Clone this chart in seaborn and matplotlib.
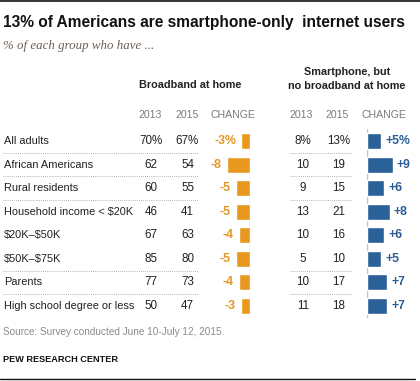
import matplotlib
matplotlib.use("Agg")
import matplotlib.pyplot as plt
import matplotlib.transforms as mtransforms
import seaborn as sns
import pandas as pd

# ---- data ----
groups = ["All adults", "African Americans", "Rural residents",
          "Household income < $20K", "$20K\u2013$50K", "$50K\u2013$75K",
          "Parents", "High school degree or less"]
bb_2013 = [70, 62, 60, 46, 67, 85, 77, 50]
bb_2015 = [67, 54, 55, 41, 63, 80, 73, 47]
bb_change = [-3, -8, -5, -5, -4, -5, -4, -3]
sp_2013 = [8, 10, 9, 13, 10, 5, 10, 11]
sp_2015 = [13, 19, 15, 21, 16, 10, 17, 18]
sp_change = [5, 9, 6, 8, 6, 5, 7, 7]
sep_after = [True, True, True, False, False, True, True, False]

title = "13% of Americans are smartphone-only  internet users"
subtitle = "% of each group who have ..."
source = "Source: Survey conducted June 10-July 12, 2015."
credit = "PEW RESEARCH CENTER"

df = pd.DataFrame({"group": groups, "bb_change": bb_change, "sp_change": sp_change})

sns.set_theme(style="white")
plt.rcParams["font.family"] = ["Liberation Sans", "DejaVu Sans"]
plt.rcParams["text.parse_math"] = False

W, H = 420, 381
fig = plt.figure(figsize=(W / 100, H / 100), dpi=100)
fig.patch.set_facecolor("white")

# full-figure pixel axes for text
ax0 = fig.add_axes([0, 0, 1, 1])
ax0.set_xlim(0, W)
ax0.set_ylim(H, 0)
ax0.axis("off")

ORANGE = "#E8981F"
BLUE = "#2B6199"
ORANGE_T = "#E39726"
BLUE_T = "#2C5D95"
DARK = "#222222"
GRAY = "#7a7a7a"

scale = 2.85  # px per percentage point
top_y, bot_y = 129.2, 317.8


def px_axes(x0, x1, y0, y1):
    return fig.add_axes([x0 / W, 1 - y1 / H, (x1 - x0) / W, (y1 - y0) / H])


axL = px_axes(250 - scale * 10, 250, top_y, bot_y)
axR = px_axes(367, 367 + scale * 10, top_y, bot_y)

sns.barplot(data=df, x="bb_change", y="group", ax=axL, orient="h",
            color=ORANGE, saturation=1, width=0.68)
sns.barplot(data=df, x="sp_change", y="group", ax=axR, orient="h",
            color=BLUE, saturation=1, width=0.68)

axL.set_xlim(-10, 0)
axR.set_xlim(0, 10)
for ax in (axL, axR):
    ax.set_ylim(len(groups) - 0.5, -0.5)
    ax.axis("off")
    ax.patch.set_alpha(0)
    ax.axvline(0, color="#c4c4c4", lw=1.0, zorder=0)

labL = [f"{v}%" if i == 0 else f"{v}" for i, v in enumerate(bb_change)]
labR = [f"+{v}%" if i == 0 else f"+{v}" for i, v in enumerate(sp_change)]
axL.bar_label(axL.containers[0], labels=labL, padding=4, color=ORANGE_T,
              fontweight="bold", fontsize=8.8)
axR.bar_label(axR.containers[0], labels=labR, padding=3, color=BLUE_T,
              fontweight="bold", fontsize=8.8)

# blended transform: x in pixels, y in row (category) units
tr = mtransforms.blended_transform_factory(ax0.transData, axL.transData)

fs = 7.95
nfs = 8.4
for i, g in enumerate(groups):
    pct = "%" if i == 0 else ""
    ax0.text(4, i, g, transform=tr, ha="left", va="center", fontsize=fs, color=DARK)
    ax0.text(151, i, f"{bb_2013[i]}{pct}", transform=tr, ha="center", va="center", fontsize=nfs, color=DARK)
    ax0.text(187.5, i, f"{bb_2015[i]}{pct}", transform=tr, ha="center", va="center", fontsize=nfs, color=DARK)
    ax0.text(303, i, f"{sp_2013[i]}{pct}", transform=tr, ha="center", va="center", fontsize=nfs, color=DARK)
    ax0.text(339, i, f"{sp_2015[i]}{pct}", transform=tr, ha="center", va="center", fontsize=nfs, color=DARK)
    if sep_after[i]:
        ax0.plot([3, 198], [i + 0.5, i + 0.5], transform=tr, color="#9a9a9a",
                 lw=0.6, ls=(0, (1, 1.5)))
        ax0.plot([290, 352], [i + 0.5, i + 0.5], transform=tr, color="#9a9a9a",
                 lw=0.6, ls=(0, (1, 1.5)))

# headers
gfs = 7.8
ax0.text(190, 85, "Broadband at home", ha="center", va="center", fontsize=gfs,
         fontweight="bold", color=DARK)
ax0.text(347, 72, "Smartphone, but", ha="center", va="center", fontsize=gfs,
         fontweight="bold", color=DARK)
ax0.text(347, 86, "no broadband at home", ha="center", va="center", fontsize=gfs,
         fontweight="bold", color=DARK)
hfs = 7.6
for x, t in [(150, "2013"), (187, "2015"), (233, "CHANGE"),
             (301, "2013"), (337, "2015"), (384, "CHANGE")]:
    ax0.text(x, 115, t, ha="center", va="center", fontsize=hfs, color=GRAY)

# title / subtitle
ax0.text(3, 23, title, ha="left", va="center", fontsize=11.2, fontweight="bold",
         color="#111111")
ax0.text(3, 46, subtitle, ha="left", va="center", fontsize=9.3, style="italic",
         color="#6b5f55", family=["Liberation Serif", "DejaVu Serif"])

# footer
ax0.text(3, 332, source, ha="left", va="center", fontsize=7.2, color="#8a8a8a")
ax0.text(3, 359, credit, ha="left", va="center", fontsize=6.6, fontweight="bold",
         color="#111111")

# rules
ax0.plot([0, W], [0.8, 0.8], color="#111111", lw=1.2)
ax0.plot([0, 415], [379, 379], color="#111111", lw=1.0)

fig.savefig("out.png", dpi=100, facecolor="white")
